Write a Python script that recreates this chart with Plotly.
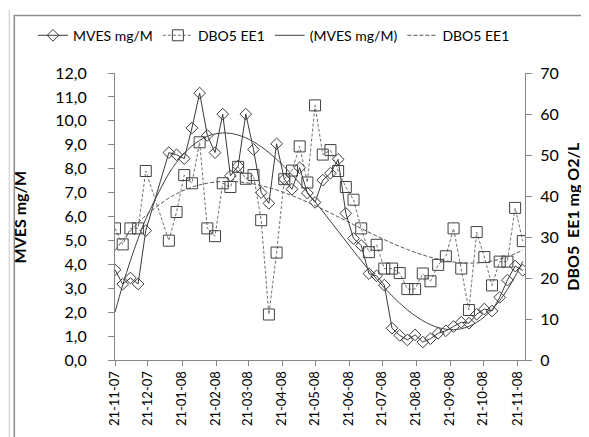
import numpy as np
import plotly.graph_objects as go

# weekly sampling dates (Wednesdays)
dates = [
    "2007-11-21", "2007-11-28", "2007-12-05", "2007-12-12", "2007-12-19",
    "2008-01-09", "2008-01-16", "2008-01-23", "2008-01-30", "2008-02-06",
    "2008-02-13", "2008-02-20", "2008-02-27", "2008-03-05", "2008-03-12",
    "2008-03-19", "2008-03-26", "2008-04-02", "2008-04-09", "2008-04-16",
    "2008-04-23", "2008-04-30", "2008-05-07", "2008-05-14", "2008-05-21",
    "2008-05-28", "2008-06-04", "2008-06-11", "2008-06-18", "2008-06-25",
    "2008-07-02", "2008-07-09", "2008-07-16", "2008-07-23", "2008-07-30",
    "2008-08-06", "2008-08-13", "2008-08-20", "2008-08-27", "2008-09-03",
    "2008-09-10", "2008-09-17", "2008-09-24", "2008-10-01", "2008-10-08",
    "2008-10-15", "2008-10-22", "2008-10-29", "2008-11-05", "2008-11-12",
    "2008-11-19", "2008-11-26",
]

mves = [
    3.77, 3.17, 3.43, 3.18, 5.41,
    8.67, 8.58, 8.42, 9.70, 11.16,
    9.39, 8.67, 10.28, 7.70, 8.11,
    10.28, 8.80, 7.00, 6.55, 9.04,
    7.56, 7.14, 8.04, 6.98, 6.59,
    7.52, 7.81, 8.39, 6.13, 5.08,
    4.79, 3.61, 3.52, 3.13, 1.33,
    1.03, 0.84, 1.05, 0.75, 0.89,
    1.12, 1.22, 1.40, 1.58, 1.54,
    1.91, 2.13, 2.05, 2.62, 3.34,
    3.93, 3.75,
]

dbo5 = [
    32.1, 28.2, 32.1, 32.1, 46.1,
    29.1, 36.1, 45.1, 43.1, 53.1,
    32.1, 30.2, 43.1, 42.2, 47.1,
    44.2, 45.1, 34.1, 11.1, 26.2,
    44.1, 46.2, 52.1, 43.3, 62.1,
    50.1, 51.2, 46.1, 42.2, 39.1,
    32.1, 26.3, 28.1, 22.3, 22.3,
    21.2, 17.3, 17.3, 21.1, 19.2,
    23.2, 25.3, 32.1, 22.3, 12.2,
    31.2, 25.1, 18.2, 24.0, 24.0,
    37.1, 29.0,
]

tick_dates = [
    "2007-11-21", "2007-12-21", "2008-01-21", "2008-02-21", "2008-03-21",
    "2008-04-21", "2008-05-21", "2008-06-21", "2008-07-21", "2008-08-21",
    "2008-09-21", "2008-10-21", "2008-11-21",
]
tick_labels = [
    "21-11-07", "21-12-07", "21-01-08", "21-02-08", "21-03-08",
    "21-04-08", "21-05-08", "21-06-08", "21-07-08", "21-08-08",
    "21-09-08", "21-10-08", "21-11-08",
]

# polynomial trendlines like Excel (fit on day numbers)
days = (np.array(dates, dtype="datetime64[D]") - np.datetime64(dates[0], "D")).astype(float)
trend_mves = np.polyval(np.polyfit(days, mves, 3), days)
trend_dbo5 = np.polyval(np.polyfit(days, dbo5, 3), days)

FONT = "Lato"

fig = go.Figure()

fig.add_trace(go.Scatter(
    x=dates, y=mves, name="MVES mg/M", mode="lines+markers",
    line=dict(color="#3a3a3a", width=1),
    marker=dict(symbol="diamond-open", size=9, color="#3a3a3a", line=dict(width=1)),
))
fig.add_trace(go.Scatter(
    x=dates, y=dbo5, name="DBO5 EE1", mode="lines+markers", yaxis="y2",
    line=dict(color="#707070", width=1, dash="3px,2px"),
    marker=dict(symbol="square-open", size=11, color="#404040", line=dict(width=1)),
))
fig.add_trace(go.Scatter(
    x=dates, y=trend_mves, name="(MVES mg/M)", mode="lines",
    line=dict(color="#404040", width=1, shape="spline"),
))
fig.add_trace(go.Scatter(
    x=dates, y=trend_dbo5, name="DBO5 EE1", mode="lines", yaxis="y2",
    line=dict(color="#555555", width=1, dash="4px,2px", shape="spline"),
))

axis_common = dict(
    showgrid=False, zeroline=False, showline=True, linecolor="#868686",
    linewidth=1, ticks="outside", ticklen=6, tickcolor="#868686",
    tickfont=dict(family=FONT, size=16, color="black"),
)

fig.update_layout(
    width=589, height=437,
    margin=dict(l=107, r=72, t=63, b=85),
    paper_bgcolor="white", plot_bgcolor="white",
    separators=",.",
    font=dict(family=FONT, color="black"),
    showlegend=True,
    legend=dict(
        orientation="h", x=-0.2, xanchor="left", y=1.13, yanchor="middle",
        font=dict(family=FONT, size=14), itemwidth=30,
        tracegroupgap=0, bgcolor="rgba(0,0,0,0)",
    ),
    xaxis=dict(
        type="date", range=["2007-11-21", "2008-11-28"],
        tickvals=tick_dates, ticktext=tick_labels, tickangle=-90,
        showgrid=False, zeroline=False, showline=True, linecolor="#868686",
        ticks="outside", ticklen=5, tickcolor="#868686",
        tickfont=dict(family=FONT, size=13, color="black"),
    ),
    yaxis=dict(range=[0, 12], dtick=1, tickformat=".1f", ticklabelstandoff=18, **axis_common),
    yaxis2=dict(range=[0, 70], dtick=10, overlaying="y", side="right",
                ticklabelstandoff=5, **axis_common),
    annotations=[
        dict(text="<b>MVES mg/M</b>", xref="paper", yref="paper", x=-0.232, y=0.5,
             textangle=-90, showarrow=False, xanchor="center", yanchor="middle",
             font=dict(family=FONT, size=16)),
        dict(text="<b>DBO5  EE1 mg O2/L</b>", xref="paper", yref="paper", x=1.115, y=0.5,
             textangle=-90, showarrow=False, xanchor="center", yanchor="middle",
             font=dict(family=FONT, size=16)),
    ],
    shapes=[
        dict(type="rect", xref="paper", yref="paper",
             x0=-0.2456, x1=1.1715, y0=-0.31, y1=1.2007,
             line=dict(color="#8c8c8c", width=1.5), fillcolor="rgba(0,0,0,0)"),
        dict(type="line", xref="paper", yref="paper",
             x0=-0.258, x1=-0.258, y0=-0.31, y1=1.22,
             line=dict(color="#c8c8c8", width=1)),
    ],
)

fig.write_html("out.html")
